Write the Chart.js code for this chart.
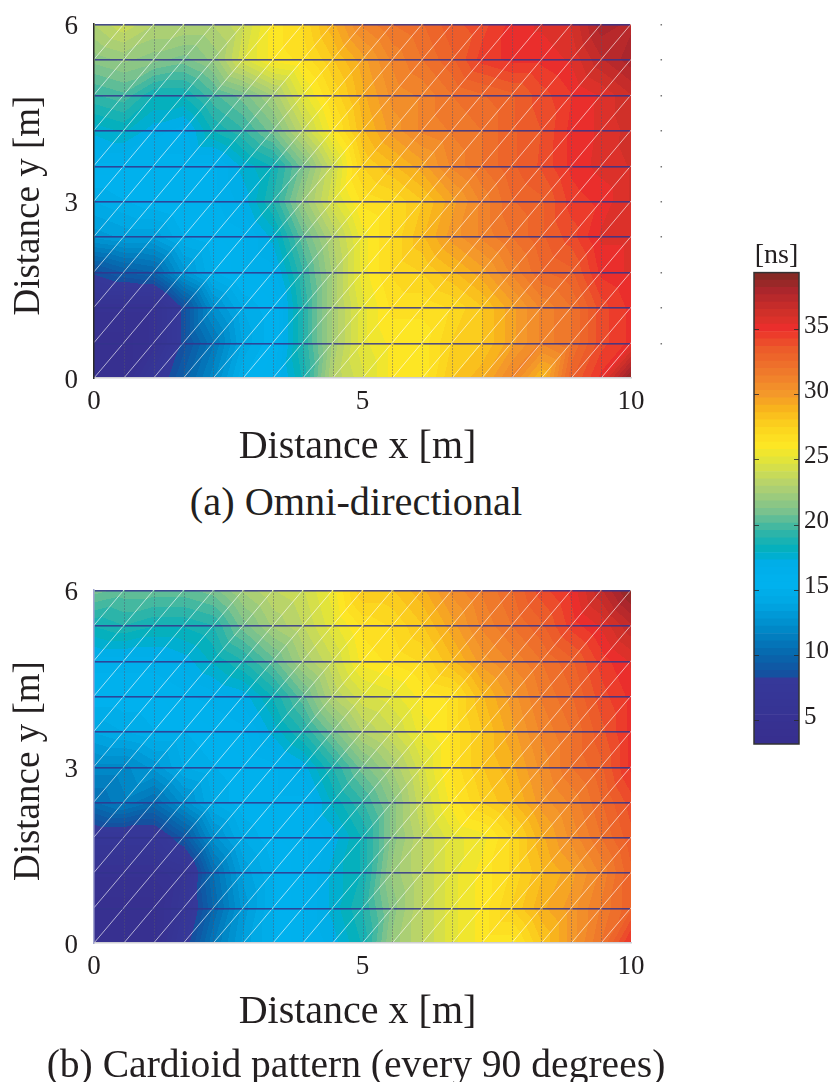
<!DOCTYPE html>
<html>
<head>
<meta charset="utf-8">
<title>Delay maps</title>
<script src="https://cdn.jsdelivr.net/npm/chart.js@4"></script>
<style>
  html, body { margin: 0; background: #fff; overflow: hidden; }
  canvas { position: absolute; }
  .caption {
    position: absolute; left: 0; width: 712px; text-align: center;
    font: 40px/40px "Liberation Serif", serif; color: #231f20; white-space: nowrap;
  }
</style>
</head>
<body>
<canvas id="omni" width="700" height="478" style="left:0;top:0"></canvas>
<div class="caption" style="top:482px;font-size:40.3px">(a) Omni-directional</div>
<canvas id="cardioid" width="700" height="477" style="left:0;top:566px"></canvas>
<div class="caption" style="top:1044px;font-size:39.6px">(b) Cardioid pattern (every 90 degrees)</div>
<canvas id="colorbar" width="132" height="530" style="left:700px;top:230px"></canvas>

<script>
// measurement grid, metres
const xNodes = [0, 0.556, 1.111, 1.667, 2.222, 2.778, 3.333, 3.889, 4.444, 5, 5.556, 6.111, 6.667, 7.222, 7.778, 8.333, 8.889, 9.444, 10];
const yNodes = [6, 5.4, 4.8, 4.2, 3.6, 3, 2.4, 1.8, 1.2, 0.6, 0];

const xTicks = [0, 5, 10];
const yTicks = [0, 3, 6];
const barTicks = [5, 10, 15, 20, 25, 30, 35];

// delay in ns at each node, top row first (y = 6 down to y = 0)
const omniDelays = [
  [23, 24, 23, 23, 23, 24, 26, 27, 29, 31, 32, 32.5, 33.5, 34, 35, 35.5, 36, 38, 37.5],
  [21.5, 22, 21.5, 21, 22, 24.5, 26, 26.5, 28, 29.5, 31, 32, 33, 34.5, 35, 35, 35.5, 37, 38],
  [19.5, 20, 18.5, 18.5, 20, 21, 22.5, 25, 27, 29, 30.5, 31, 32, 32.5, 33, 34, 34.8, 35.5, 36.5],
  [17.5, 18, 17, 16.5, 18.5, 19.5, 21, 23.5, 26, 28.5, 30, 31, 31.5, 32, 33, 33.7, 35, 35.5, 36.2],
  [16, 16, 16, 16, 16, 17.5, 18.5, 21, 24, 27.5, 28.5, 29.5, 31, 32, 33, 33.8, 35, 35.6, 36],
  [14.5, 15, 15.5, 16, 16, 17, 19, 22, 24.5, 26.5, 27, 28, 29.5, 31, 32.5, 33, 34.5, 35, 36],
  [13, 13.5, 13.5, 15, 15.5, 16, 17.5, 20.5, 23, 25.5, 27, 28.5, 30, 31, 32, 33, 34, 35.5, 35.5],
  [8.5, 9.5, 10, 13, 15, 16, 16.5, 19.5, 22.5, 25.5, 27, 27.5, 28.5, 29.5, 31, 32.5, 33, 35, 35.5],
  [5, 5, 5, 8.5, 12.5, 14.5, 15.5, 19, 22.5, 25, 26.5, 26.5, 27, 28, 29.5, 31, 32, 34, 35],
  [4, 4, 5, 8.5, 11, 14, 15.5, 19, 22.5, 25, 26, 26, 27.5, 28, 29.5, 31, 32, 34, 35],
  [4, 4, 7, 9.5, 12, 15, 16, 18.5, 23, 24.5, 26, 26, 28, 29, 31, 28.5, 33, 35, 39]
];

const cardioidDelays = [
  [21, 20.5, 20.5, 20.5, 21, 22.5, 23.5, 24, 25.5, 28, 28, 29, 30.5, 31.5, 32.5, 34, 35, 37, 39],
  [18.5, 19, 18.5, 18.5, 19, 21, 22.5, 23.5, 25, 26.5, 27, 28, 29.5, 31, 32, 33, 34.5, 35.5, 37],
  [16.5, 16.5, 16.5, 17, 18, 19, 20.5, 22.5, 24, 26, 26.5, 27, 28.5, 30, 31, 32, 33, 34.5, 35.5],
  [15.5, 15.5, 15.5, 16, 16.5, 17, 18.5, 20.5, 23, 24.5, 25, 26, 26.5, 28.5, 30, 31.5, 32.5, 34, 35],
  [14, 14.5, 15, 15, 15.5, 16, 17.5, 19, 21, 23, 24, 25.5, 26.5, 28, 29.5, 31, 32, 33.5, 35],
  [12, 12, 13, 14.5, 15, 15.5, 16, 17, 19, 21, 22.5, 24.5, 26.5, 28, 29, 30.5, 32, 33, 35],
  [10.5, 11.5, 10.5, 12.5, 14.5, 15.5, 16, 16, 18, 19.5, 21.5, 24, 26, 27.5, 28.5, 30, 31, 32.5, 34],
  [7, 7, 7, 9, 12.5, 14.5, 15.5, 16, 17, 18.5, 21.5, 23.5, 25, 25.5, 27, 29, 30.5, 32, 33.5],
  [5, 5, 5, 6, 10.5, 13.5, 15, 16, 17.5, 18.5, 22, 23.5, 25, 26, 27, 28.5, 29.5, 31, 33],
  [4, 4, 4, 6.5, 10, 13, 15, 16, 17.5, 19, 21.5, 23.5, 25, 26, 27.5, 29, 30, 31.5, 33],
  [4, 4, 4, 7.5, 11, 13.5, 15, 16, 17, 18.5, 22, 23.5, 25, 26, 26, 28, 30, 32, 35]
];

// colormap
const barMin = 3.16;
const barMax = 39.34;
const levelCount = 64;
const stopValues = [3.2, 8.2, 8.4, 10, 12, 14, 15.5, 17, 18, 19.5, 21, 23, 25, 26, 27.5, 29, 30, 32, 33.5, 35, 36, 37, 38, 39.3];
const stopColors = ['#372f8e', '#36389a', '#154f9f', '#0767ad', '#0089c8', '#00a8e4', '#00b2ef', '#00aee8', '#00b0bf',
  '#34b5a5', '#7cc28d', '#b4d26f', '#e4e538', '#fde724', '#fcd31e', '#f8b01d', '#f4982a', '#ee742b', '#ec5a2a',
  '#ec2e2c', '#d43229', '#c12b2a', '#a9262c', '#7f2a22'];

const inkColor = '#231f20';
const serif = '"Liberation Serif", serif';

function hexToRgb(hex) {
  return [1, 3, 5].map(k => parseInt(hex.substr(k, 2), 16));
}

const stopRgb = stopColors.map(hexToRgb);

function colorAt(value) {
  if (value <= stopValues[0]) return stopRgb[0];
  for (let k = 1; k < stopValues.length; k++) {
    if (value <= stopValues[k]) {
      const t = (value - stopValues[k - 1]) / (stopValues[k] - stopValues[k - 1]);
      return stopRgb[k].map((c, n) => stopRgb[k - 1][n] + (c - stopRgb[k - 1][n]) * t);
    }
  }
  return stopRgb[stopRgb.length - 1];
}

// The map is flat-shaded in colour levels, like the colour bar
const levelSize = (barMax - barMin) / levelCount;
const levelRgb = [];
for (let n = 0; n < levelCount; n++) {
  levelRgb.push(colorAt(barMin + (n + 0.5) * levelSize).map(Math.round));
}

function levelOf(value) {
  return Math.max(0, Math.min(levelCount - 1, Math.floor((value - barMin) / levelSize)));
}

function findCell(nodes, value) {
  // nodes may run either way; returns the lower index and the fraction towards the next one
  for (let i = 0; i < nodes.length - 1; i++) {
    const a = nodes[i], b = nodes[i + 1];
    if (value >= Math.min(a, b) && value <= Math.max(a, b)) return [i, (value - a) / (b - a)];
  }
  return value < nodes[0] === nodes[0] < nodes[1] ? [0, 0] : [nodes.length - 2, 1];
}

// Triangulated delay surface, then the measurement mesh on top
const meshPlugin = {
  id: 'mesh',
  beforeDatasetsDraw(chart) {
    const { ctx, chartArea: area, scales: { x, y } } = chart;
    const points = chart.data.datasets[0].data;
    const nodeAt = (col, row) => points[row * xNodes.length + col].v;
    const w = Math.round(area.right - area.left);
    const h = Math.round(area.bottom - area.top);
    const image = ctx.createImageData(w, h);
    for (let py = 0; py < h; py++) {
      const [row, fy] = findCell(yNodes, y.getValueForPixel(area.top + py + 0.5));
      for (let px = 0; px < w; px++) {
        const [col, fx] = findCell(xNodes, x.getValueForPixel(area.left + px + 0.5));
        const up = 1 - fy; // 0 on the lower edge of the cell, 1 on the upper one
        const bl = nodeAt(col, row + 1), br = nodeAt(col + 1, row + 1);
        const tl = nodeAt(col, row), tr = nodeAt(col + 1, row);
        const v = fx >= up
          ? bl + fx * (br - bl) + up * (tr - br)
          : bl + up * (tl - bl) + fx * (tr - tl);
        const rgb = levelRgb[levelOf(v)];
        const k = (py * w + px) * 4;
        image.data[k] = rgb[0];
        image.data[k + 1] = rgb[1];
        image.data[k + 2] = rgb[2];
        image.data[k + 3] = 255;
      }
    }
    ctx.putImageData(image, Math.round(area.left), Math.round(area.top));
  },
  afterDatasetsDraw(chart, args, opts) {
    const { ctx, scales: { x, y } } = chart;
    ctx.save();

    // vertical mesh lines, faint and broken up
    ctx.strokeStyle = 'rgba(85, 85, 110, 0.45)';
    ctx.lineWidth = 1;
    ctx.setLineDash([2, 1]);
    xNodes.slice(1, -1).forEach(xv => {
      const px = Math.round(x.getPixelForValue(xv)) + 0.5;
      ctx.beginPath();
      ctx.moveTo(px, y.getPixelForValue(6));
      ctx.lineTo(px, y.getPixelForValue(0));
      ctx.stroke();
    });
    ctx.setLineDash([]);

    // diagonals of the triangulation
    ctx.strokeStyle = 'rgba(255, 255, 255, 0.78)';
    ctx.lineWidth = 0.8;
    for (let col = 0; col < xNodes.length - 1; col++) {
      for (let row = 0; row < yNodes.length - 1; row++) {
        ctx.beginPath();
        ctx.moveTo(x.getPixelForValue(xNodes[col]), y.getPixelForValue(yNodes[row + 1]));
        ctx.lineTo(x.getPixelForValue(xNodes[col + 1]), y.getPixelForValue(yNodes[row]));
        ctx.stroke();
      }
    }

    // horizontal mesh lines, darker, one piece per cell
    ctx.strokeStyle = 'rgba(50, 52, 140, 0.85)';
    ctx.lineWidth = 1.6;
    yNodes.slice(0, -1).forEach(yv => {
      const py = Math.round(y.getPixelForValue(yv)) + 0.8;
      for (let col = 0; col < xNodes.length - 1; col++) {
        ctx.beginPath();
        ctx.moveTo(x.getPixelForValue(xNodes[col]) + 1, py);
        ctx.lineTo(x.getPixelForValue(xNodes[col + 1]) - 1, py);
        ctx.stroke();
      }
    });

    // stray specks to the right of the top panel
    if (opts.specks) {
      ctx.fillStyle = '#777';
      yNodes.slice(0, -1).forEach(yv => {
        ctx.fillRect(x.getPixelForValue(opts.specks), Math.round(y.getPixelForValue(yv)), 1.5, 1.5);
      });
    }
    ctx.restore();
  }
};

function drawMap(canvasId, delays, edgeColor, specks) {
  const nodes = [];
  yNodes.forEach((yv, row) => {
    xNodes.forEach((xv, col) => nodes.push({ x: xv, y: yv, v: delays[row][col] }));
  });

  new Chart(document.getElementById(canvasId), {
    type: 'scatter',
    data: { datasets: [{ data: nodes, pointRadius: 0, pointHoverRadius: 0 }] },
    plugins: [meshPlugin],
    options: {
      responsive: false,
      animation: false,
      events: [],
      layout: { padding: { top: 24, right: 69, left: 0, bottom: 0 } },
      plugins: {
        legend: { display: false },
        tooltip: { enabled: false },
        mesh: { specks: specks }
      },
      scales: {
        x: {
          type: 'linear', min: 0, max: 10,
          afterBuildTicks: s => { s.ticks = xTicks.map(v => ({ value: v })); },
          afterFit: s => {
            s.height = 100;
            s.paddingLeft = 0;
            s.paddingRight = 0;
          },
          grid: { display: false, drawTicks: false },
          border: { display: true, color: '#cfcfd4', width: 1.5, z: 1 },
          ticks: { font: { family: serif, size: 27 }, color: inkColor, padding: 8, maxRotation: 0 },
          title: { display: true, text: 'Distance x [m]\u00a0', font: { family: serif, size: 40, lineHeight: 1 }, color: inkColor, padding: { top: 0, bottom: 11 } }
        },
        y: {
          type: 'linear', min: 0, max: 6,
          afterBuildTicks: s => { s.ticks = yTicks.map(v => ({ value: v })); },
          afterFit: s => {
            s.width = 94;
            s.paddingTop = 0;
            s.paddingBottom = 0;
            // labels sit a little below their value in the reference
            s.getPixelForTick = i => s.getPixelForValue(s.ticks[i].value) + 3;
          },
          grid: { display: false, drawTicks: false },
          border: { display: true, color: edgeColor, width: 1.5, z: 1 },
          ticks: { font: { family: serif, size: 27 }, color: inkColor, padding: 16 },
          title: { display: true, text: 'Distance y [m]\u00a0', font: { family: serif, size: 37, lineHeight: 1 }, color: inkColor, padding: { top: 11, bottom: 0 } }
        }
      }
    }
  });
}

function drawColorbar() {
  const datasets = levelRgb.map((rgb, n) => ({
    data: [[barMin + n * levelSize, barMin + (n + 1) * levelSize]],
    backgroundColor: `rgb(${rgb.join(',')})`,
    borderWidth: 0,
    grouped: false,
    barPercentage: 1,
    categoryPercentage: 1
  }));

  const framePlugin = {
    id: 'frame',
    afterDatasetsDraw(chart) {
      const { ctx, chartArea: a, scales: { y } } = chart;
      ctx.save();
      ctx.strokeStyle = '#333';
      ctx.lineWidth = 1.5;
      ctx.strokeRect(a.left, a.top, a.right - a.left, a.bottom - a.top);
      ctx.lineWidth = 1;
      ctx.strokeStyle = 'rgba(40, 40, 40, 0.8)';
      barTicks.forEach(v => {
        const py = Math.round(y.getPixelForValue(v)) + 0.5;
        ctx.beginPath();
        ctx.moveTo(a.left, py);
        ctx.lineTo(a.left + 5, py);
        ctx.moveTo(a.right - 5, py);
        ctx.lineTo(a.right, py);
        ctx.stroke();
      });
      ctx.restore();
    }
  };

  new Chart(document.getElementById('colorbar'), {
    type: 'bar',
    data: { labels: ['delay'], datasets: datasets },
    plugins: [framePlugin],
    options: {
      responsive: false,
      animation: false,
      events: [],
      layout: { padding: { left: 54, right: 0, top: 0, bottom: 16 } },
      plugins: {
        legend: { display: false },
        tooltip: { enabled: false },
        title: {
          display: true, text: '[ns]', fullSize: false, color: inkColor,
          font: { family: serif, size: 28, weight: 'normal', lineHeight: 1.2 },
          padding: { top: 9, bottom: 0 }
        }
      },
      scales: {
        x: { display: false },
        y: {
          position: 'right',
          min: barMin, max: barMax,
          afterBuildTicks: s => { s.ticks = barTicks.map(v => ({ value: v })); },
          afterFit: s => {
            s.width = 33;
            s.paddingTop = 0;
            s.paddingBottom = 0;
            // labels sit a little above their tick marks in the reference
            s.getPixelForTick = i => s.getPixelForValue(s.ticks[i].value) - 3;
          },
          grid: { display: false, drawTicks: false },
          border: { display: false },
          ticks: { font: { family: serif, size: 25 }, color: inkColor, padding: 5 }
        }
      }
    }
  });
}

drawMap('omni', omniDelays, '#2a2a2a', 10.55);
drawMap('cardioid', cardioidDelays, '#a3a6d0', null);
drawColorbar();
</script>
</body>
</html>
